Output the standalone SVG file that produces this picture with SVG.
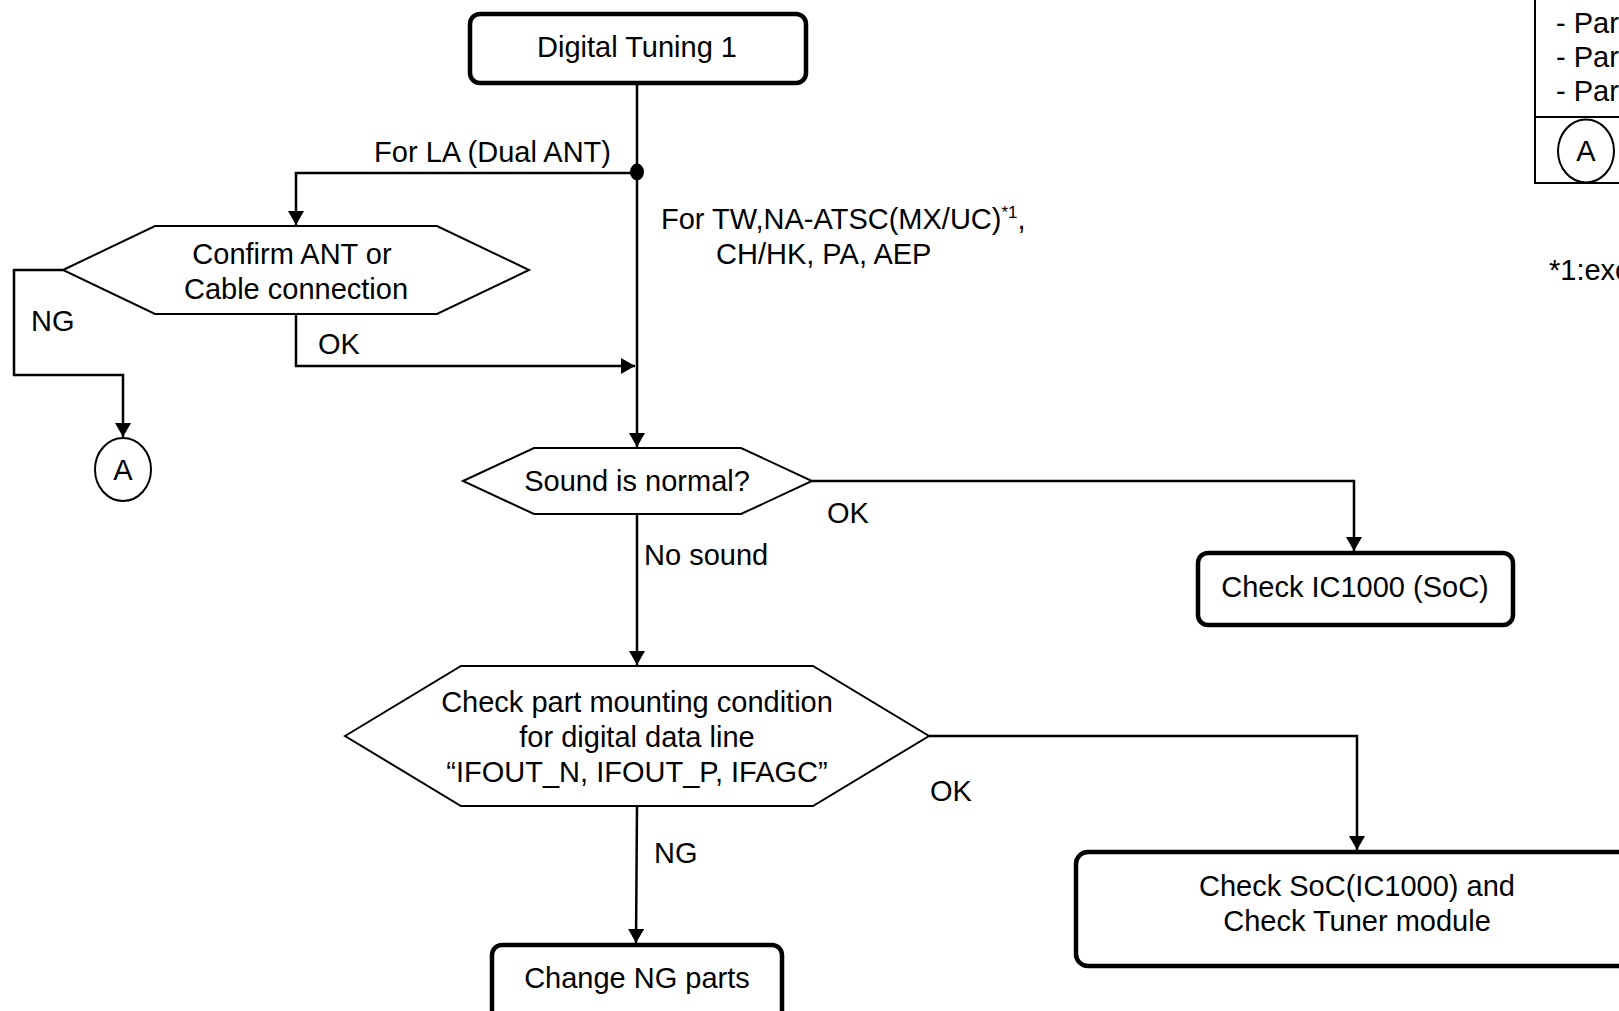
<svg xmlns="http://www.w3.org/2000/svg" width="1619" height="1011" viewBox="0 0 1619 1011">
<style>
  text { font-family: "Liberation Sans", Arial, sans-serif; font-size: 29px; fill: #000; }
  .c { text-anchor: middle; }
  .box { fill: #fff; stroke: #000; stroke-width: 4.5; }
  .hex { fill: #fff; stroke: #000; stroke-width: 2; }
  .ln { fill: none; stroke: #000; stroke-width: 2.5; }
  .arr { marker-end: url(#ah); }
  .circ { fill: #fff; stroke: #000; stroke-width: 2; }
  .sup { font-size: 17px; }
</style>
<defs>
  <marker id="ah" viewBox="0 0 14 16" refX="14" refY="8" markerWidth="14" markerHeight="16" markerUnits="userSpaceOnUse" orient="auto">
    <path d="M0,0 L14,8 L0,16 z" fill="#000"/>
  </marker>
</defs>
<rect width="1619" height="1011" fill="#fff"/>

<g id="connectors">
  <path class="ln arr" d="M637,84 V447"/>
  <path class="ln arr" d="M637,173 H296 V225"/>
  <path class="ln arr" d="M63,270 H14 V375 H123 V437"/>
  <path class="ln arr" d="M296,314 V366 H635"/>
  <path class="ln arr" d="M812,481 H1354 V551"/>
  <path class="ln arr" d="M637,514 V665"/>
  <path class="ln arr" d="M929,736 H1357 V850"/>
  <path class="ln arr" d="M637,806 L636,943"/>
  <ellipse cx="637" cy="172" rx="7" ry="8.5" fill="#000"/>
  <text x="611" y="162" text-anchor="end">For LA (Dual ANT)</text>
  <text x="661" y="229">For TW,NA-ATSC(MX/UC)<tspan class="sup" dy="-11">*1</tspan><tspan dy="11">,</tspan></text>
  <text x="716" y="264">CH/HK, PA, AEP</text>
  <text x="31" y="331">NG</text>
  <text x="318" y="354">OK</text>
  <text x="827" y="523">OK</text>
  <text x="644" y="565">No sound</text>
  <text x="930" y="801">OK</text>
  <text x="654" y="863">NG</text>
</g>

<g id="digital-tuning">
  <rect class="box" x="470" y="14" width="336" height="69" rx="10"/>
  <text class="c" x="637" y="57">Digital Tuning 1</text>
</g>

<g id="confirm-ant">
  <polygon class="hex" points="63,270 155,226 437,226 529,270 437,314 155,314"/>
  <text class="c" x="292" y="264">Confirm ANT or</text>
  <text class="c" x="296" y="299">Cable connection</text>
</g>

<g id="connector-a-left">
  <ellipse class="circ" cx="123" cy="469.5" rx="28" ry="31.5"/>
  <text class="c" x="123" y="480">A</text>
</g>

<g id="sound-normal">
  <polygon class="hex" points="463,481 534,448 741,448 812,481 741,514 534,514"/>
  <text class="c" x="637" y="491">Sound is normal?</text>
</g>

<g id="check-ic1000">
  <rect class="box" x="1198" y="553" width="315" height="72" rx="10"/>
  <text class="c" x="1355" y="597">Check IC1000 (SoC)</text>
</g>

<g id="check-mounting">
  <polygon class="hex" points="345,736 461,666 813,666 929,736 813,806 461,806"/>
  <text class="c" x="637" y="712">Check part mounting condition</text>
  <text class="c" x="637" y="747">for digital data line</text>
  <text class="c" x="637" y="782">“IFOUT_N, IFOUT_P, IFAGC”</text>
</g>

<g id="check-soc-tuner">
  <rect class="box" x="1076" y="852" width="564" height="114" rx="12"/>
  <text class="c" x="1357" y="896">Check SoC(IC1000) and</text>
  <text class="c" x="1357" y="931">Check Tuner module</text>
</g>

<g id="change-ng">
  <rect class="box" x="492" y="945" width="290" height="90" rx="10"/>
  <text class="c" x="637" y="988">Change NG parts</text>
</g>

<g id="legend">
  <rect x="1535" y="-10" width="120" height="193" fill="#fff" stroke="#000" stroke-width="2"/>
  <line x1="1535" y1="117" x2="1655" y2="117" stroke="#000" stroke-width="2"/>
  <text x="1556" y="33">- Part</text>
  <text x="1556" y="67">- Part</text>
  <text x="1556" y="101">- Part</text>
  <ellipse class="circ" cx="1586" cy="151" rx="28" ry="31.5"/>
  <text class="c" x="1586" y="161">A</text>
  <text x="1549" y="280">*1:except</text>
</g>
</svg>
